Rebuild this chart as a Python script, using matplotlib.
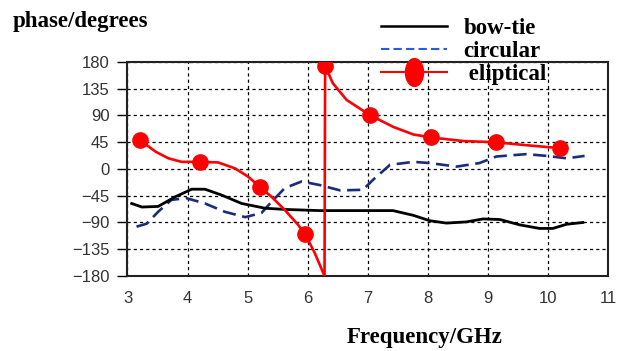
import matplotlib
matplotlib.use("Agg")
import matplotlib.pyplot as plt
from matplotlib.lines import Line2D
from matplotlib.path import Path
import numpy as np

# bow-tie antenna phase (frequency in GHz, phase in degrees)
bowtie_f = [3.07, 3.24, 3.51, 3.79, 4.07, 4.29, 4.57, 4.90, 5.29, 5.62, 6.20, 6.76,
            7.42, 7.76, 8.03, 8.31, 8.64, 8.92, 9.20, 9.53, 9.86, 10.08, 10.31, 10.58]
bowtie_ph = [-58, -64, -63, -47, -34, -34, -44, -58, -66, -68, -70, -70,
             -70, -78, -87, -91, -89, -84, -85, -94, -100, -100, -93, -90]

# circular antenna phase
circ_f = [3.15, 3.32, 3.51, 3.73, 3.98, 4.29, 4.62, 4.96, 5.23, 5.40, 5.62, 5.90,
          6.20, 6.54, 6.92, 7.09, 7.37, 7.76, 8.03, 8.48, 8.86, 9.14, 9.64, 9.98,
          10.31, 10.61]
circ_ph = [-97, -92, -72, -52, -49, -58, -72, -81, -74, -55, -32, -21,
           -27, -36, -35, -18, 7, 12, 10, 4, 10, 21, 25, 22,
           18, 22]

# eliptical antenna: measured points and the trace through them
ellip_f = [3.2, 4.2, 5.2, 5.96, 6.29, 7.03, 8.06, 9.13, 10.2]
ellip_ph = [49, 12, -30, -110, 173, 91, 53, 45, 35]
ellip_line_f = [3.2, 3.47, 3.68, 3.90, 4.2, 4.51, 4.79, 5.01, 5.2, 5.40, 5.62,
                5.84, 5.96, 6.12, 6.28, 6.29, 6.42, 6.65, 7.03, 7.42, 7.76,
                8.06, 8.59, 9.13, 9.64, 10.2]
ellip_line_ph = [49, 29, 18, 12, 12, 11, 1, -13, -30, -47, -69,
                 -94, -110, -142, -180, 173, 144, 116, 91, 71, 58,
                 53, 47, 45, 40, 35]

x_ticks = [3, 4, 5, 6, 7, 8, 9, 10, 11]
y_ticks = [-180, -135, -90, -45, 0, 45, 90, 135, 180]

serif = "Liberation Serif"
navy = "#1c2c7c"

fig = plt.figure(figsize=(6.29, 3.51), dpi=100)
ax = fig.add_axes([0.2027, 0.2137, 0.764, 0.6097])

ax.plot(circ_f, circ_ph, color=navy, lw=1.9, ls=(0, (5, 2.5)), zorder=3)
ax.plot(bowtie_f, bowtie_ph, color="black", lw=2.0, zorder=4,
        solid_joinstyle="round")
ax.plot(ellip_line_f, ellip_line_ph, color="red", lw=1.9, zorder=5,
        solid_joinstyle="round")
ax.plot(ellip_f, ellip_ph, ls="none", marker="o", ms=11, color="red", zorder=6)

ax.set_xlim(3, 11)
ax.set_ylim(-180, 180)
ax.set_xticks(x_ticks)
ax.set_yticks(y_ticks)
ax.set_xticks([3, 11], minor=True)
ax.grid(True, color="black", lw=0.9, ls=(0, (2.5, 2.5)))
for s in ax.spines.values():
    s.set_linewidth(1.5)
    s.set_color("#222222")

ax.tick_params(axis="x", which="major", length=0, pad=11, labelsize=12,
               labelcolor="#333333")
ax.tick_params(axis="x", which="minor", length=6, width=1.5, direction="out")
ax.tick_params(axis="y", length=7, width=1, direction="out", pad=6,
               labelsize=12, labelcolor="#333333")
for lab in ax.get_xticklabels() + ax.get_yticklabels():
    lab.set_fontfamily("Liberation Sans")

fig.text(13 / 629, 1 - 27 / 351, "phase/degrees", family=serif, weight="bold",
         fontsize=16.5, va="baseline", ha="left")
fig.text(347 / 629, 8 / 351, "Frequency/GHz", family=serif, weight="bold",
         fontsize=16.5, va="baseline", ha="left")

# tall ellipse used as the legend marker
t = np.linspace(0, 2 * np.pi, 60)
ellipse = Path(np.column_stack([np.cos(t) * 0.65, np.sin(t)]), closed=True)

handles = [
    Line2D([], [], color="black", lw=1.8),
    Line2D([], [], color="#2a5ae0", lw=1.5, ls=(0, (4, 2))),
    Line2D([], [], color="red", lw=1.5, marker=ellipse, ms=20),
]
labels = ["bow-tie", "circular", " eliptical"]
leg = fig.legend(handles, labels, loc="upper left",
                 bbox_to_anchor=(381 / 629, 1 - 18 / 351), frameon=False,
                 prop={"family": serif, "weight": "bold", "size": 16.5},
                 handlelength=2.9, handletextpad=0.7, labelspacing=0.08,
                 borderpad=0, borderaxespad=0)

fig.savefig("out.png", dpi=100)
